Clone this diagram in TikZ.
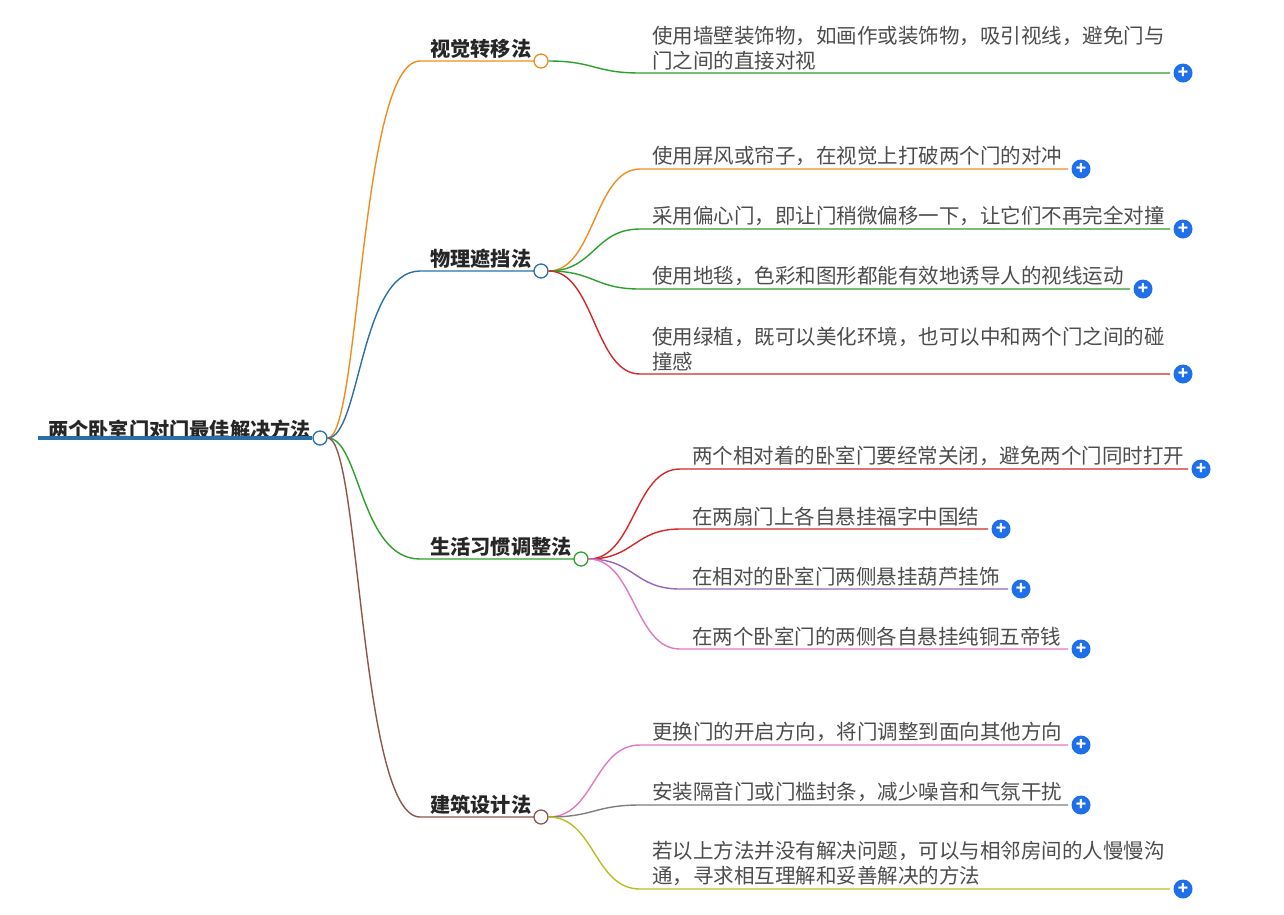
\documentclass[tikz,border=0pt]{standalone}
\usepackage{fontspec}
\usetikzlibrary{calc}
\setmainfont{Noto Sans CJK SC}
\begin{document}
\begin{tikzpicture}[x=1pt,y=-1pt,
 leaf/.style={anchor=south west,inner sep=0pt,font=\fontsize{20.5}{25}\selectfont,text=black!70,align=left},
 blab/.style={anchor=south west,inner sep=0pt,font=\fontsize{20.2}{24}\selectfont\bfseries,text=black!85},
 knob/.style={circle,draw=#1,fill=white,line width=1.3pt,minimum size=14pt,inner sep=0pt},
 plus/.style={circle,minimum size=19pt,inner sep=0pt,text=white,font=\bfseries\fontsize{17}{17}\selectfont},
 ln/.style={line width=1.4pt}]
\definecolor{cOr}{HTML}{F28C1E}\definecolor{cBl}{HTML}{2A6FA8}\definecolor{cGr}{HTML}{2CA02C}
\definecolor{cRd}{HTML}{D62728}\definecolor{cPu}{HTML}{9467BD}\definecolor{cPk}{HTML}{E377C2}
\definecolor{cBr}{HTML}{8C564B}\definecolor{cGy}{HTML}{7F7F7F}\definecolor{cOl}{HTML}{BCBD22}
\definecolor{pb}{HTML}{1F6FEB}
\tikzset{plus/.append style={fill=pb}}
\useasboundingbox (0,0) rectangle (1284,914);
% root
\node[blab] (rt) at (48,440) {两个卧室门对门最佳解决方法};
\coordinate (rs) at (38,438);
\node[knob=cBl] (rc) at (320,438) {};
\draw[cBl,line width=3.5pt] (rs) -- (rc.west);
% branches
\def\branch#1#2#3#4#5{%
 \coordinate (#1s) at (420,#3);
 \draw[#4,ln] (rc.east) .. controls (360,438) and (360,#3) .. (#1s) -- (#5,#3);
 \node[knob=#4] (#1) at (#5,#3) {};
 \node[blab] (#1t) at (430,#3-2) {#2};}
\branch{b1}{视觉转移法}{61}{cOr}{541}
\branch{b2}{物理遮挡法}{271}{cBl}{541}
\branch{b3}{生活习惯调整法}{559}{cGr}{581}
\branch{b4}{建筑设计法}{817}{cBr}{541}
% leaves: name, parent, color, startx, liney, endx, text
\def\leaf#1#2#3#4#5#6#7{%
 \coordinate (#1s) at (#4,#5);
 \coordinate (#1e) at (#6,#5);
 \draw[#3,ln] (#2.east) .. controls ($(#2.east)!0.5!(#2.east-|#1s)$) and ($(#1s)!0.5!(#1s-|#2.east)$) .. (#1s) -- (#1e);
 \node[leaf] (#1t) at (#4+12,#5-3) {#7};
 \node[plus] (#1p) at (#6+13,#5) {+};}
\leaf{l1}{b1}{cGr}{640}{73}{1170}{使用墙壁装饰物，如画作或装饰物，吸引视线，避免门与\\门之间的直接对视}
\leaf{l2}{b2}{cOr}{640}{169}{1068}{使用屏风或帘子，在视觉上打破两个门的对冲}
\leaf{l3}{b2}{cGr}{640}{229}{1170}{采用偏心门，即让门稍微偏移一下，让它们不再完全对撞}
\leaf{l4}{b2}{cGr}{640}{289}{1130}{使用地毯，色彩和图形都能有效地诱导人的视线运动}
\leaf{l5}{b2}{cRd}{640}{374}{1170}{使用绿植，既可以美化环境，也可以中和两个门之间的碰\\撞感}
\leaf{l6}{b3}{cRd}{680}{469}{1188}{两个相对着的卧室门要经常关闭，避免两个门同时打开}
\leaf{l7}{b3}{cRd}{680}{529}{988}{在两扇门上各自悬挂福字中国结}
\leaf{l8}{b3}{cPu}{680}{589}{1008}{在相对的卧室门两侧悬挂葫芦挂饰}
\leaf{l9}{b3}{cPk}{680}{649}{1068}{在两个卧室门的两侧各自悬挂纯铜五帝钱}
\leaf{l10}{b4}{cPk}{640}{745}{1068}{更换门的开启方向，将门调整到面向其他方向}
\leaf{l11}{b4}{cGy}{640}{805}{1068}{安装隔音门或门槛封条，减少噪音和气氛干扰}
\leaf{l12}{b4}{cOl}{640}{889}{1170}{若以上方法并没有解决问题，可以与相邻房间的人慢慢沟\\通，寻求相互理解和妥善解决的方法}
\end{tikzpicture}
\end{document}
